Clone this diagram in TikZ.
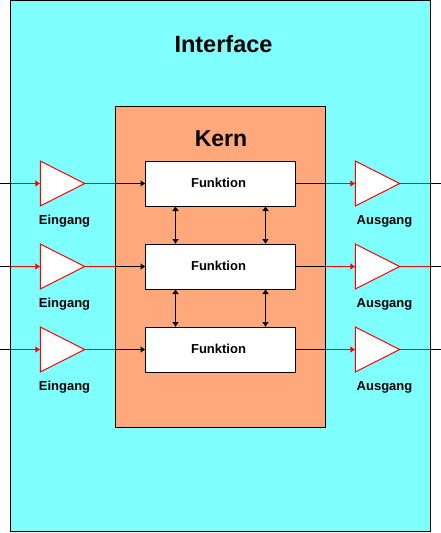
\documentclass[tikz,border=0pt]{standalone}
\usepackage{fontspec}
\setmainfont{Liberation Sans}
\usetikzlibrary{arrows.meta}
\definecolor{ifcyan}{HTML}{80FFFF}
\definecolor{kernor}{HTML}{FFA87C}
\tikzset{
  every node/.style={inner sep=0pt,outer sep=0pt},
  px/.style={line width=1pt},
  head/.style={-{Latex[length=5pt,width=7pt]}},
  dhead/.style={{Latex[length=5pt,width=7pt]}-{Latex[length=5pt,width=7pt]}},
  panel/.style={draw=black,px,minimum width=#1},
  funcbox/.style={draw=black,px,fill=white,minimum width=150pt,minimum height=45pt},
  functext/.style={font=\fontsize{13pt}{15pt}\selectfont\bfseries},
  ampbox/.style={minimum width=44.5pt,minimum height=45pt},
  amp/.style={draw=red,px,fill=white,line join=miter},
  caption/.style={font=\fontsize{13pt}{15pt}\selectfont\bfseries},
  redl/.style={draw=red,px},
  blkl/.style={draw=black,px}
}
\begin{document}
\begin{tikzpicture}[x=1pt,y=-1pt]
\useasboundingbox (0,0) rectangle (441,533);
\node[panel=420pt,fill=ifcyan,minimum height=531pt,anchor=north west] (iface) at (10.5,0.5) {};
\node[panel=210pt,fill=kernor,minimum height=321pt,anchor=north west] (kern) at (115.5,106.5) {};
\node[font=\fontsize{23.5pt}{25pt}\selectfont\bfseries] (tiface) at (223.5,44) {Interface};
\node[font=\fontsize{23pt}{25pt}\selectfont\bfseries] (tkern) at (221,138.5) {Kern};
\foreach \n/\y in {a/183.5,b/266.5,c/349.5}{
  \node[funcbox] (f\n) at (220.5,\y) {};
  \node[functext] (ft\n) at (218.5,\y-0.5) {Funktion};
  \node[ampbox] (in\n) at (62.5,\y) {};
  \node[ampbox] (out\n) at (377.5,\y) {};
  \draw[amp] (in\n.north west) -- (in\n.east) -- (in\n.south west) -- cycle;
  \draw[amp] (out\n.north west) -- (out\n.east) -- (out\n.south west) -- cycle;
  \node[caption] (le\n) at (64.5,\y+37.5) {Eingang};
  \node[caption] (la\n) at (384.5,\y+38) {Ausgang};
  \coordinate (w\n) at (0,\y);
  \coordinate (e\n) at (441,\y);
  \coordinate (il\n) at (iface.west |- in\n.west);
  \coordinate (ir\n) at (iface.east |- in\n.west);
  \coordinate (kl\n) at (kern.west |- in\n.west);
  \coordinate (kr\n) at (kern.east |- in\n.west);
  \draw[blkl] (w\n) -- (il\n);
  \draw[redl,head] (il\n) -- (in\n.west);
  \draw[redl] (in\n.east) -- (kl\n);
  \draw[blkl,head] (kl\n) -- (f\n.west);
  \draw[blkl] (f\n.east) -- (kr\n);
  \draw[redl,head] (kr\n) -- (out\n.west);
  \draw[redl] (out\n.east) -- (ir\n);
  \draw[blkl] (ir\n) -- (e\n);
}
\foreach \p/\q in {a/b,b/c}{
  \draw[blkl,dhead] ([xshift=-45pt]f\p.south) -- ([xshift=-45pt]f\q.north);
  \draw[blkl,dhead] ([xshift=45pt]f\p.south) -- ([xshift=45pt]f\q.north);
}
\end{tikzpicture}
\end{document}
